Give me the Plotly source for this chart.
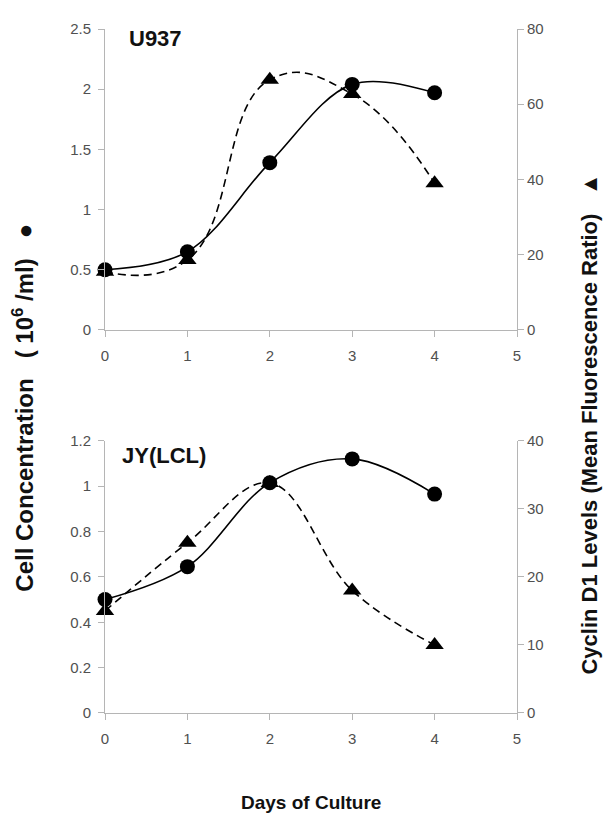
import plotly.graph_objects as go

days = [0, 1, 2, 3, 4]
u937_cells = [0.5, 0.65, 1.39, 2.04, 1.97]
u937_cyclin = [15.5, 18.6, 66.5, 62.7, 39.0]
jy_cells = [0.5, 0.645, 1.015, 1.12, 0.965]
jy_cyclin = [15.0, 25.0, 33.8, 18.0, 10.0]

x_ticks = [0, 1, 2, 3, 4, 5]
top_left_ticks = [0, 0.5, 1, 1.5, 2, 2.5]
top_right_ticks = [0, 20, 40, 60, 80]
bot_left_ticks = [0, 0.2, 0.4, 0.6, 0.8, 1, 1.2]
bot_left_text = ["0", "0.2", "0.4", "0.6", "0.8", "1", "1.2"]
bot_right_ticks = [0, 10, 20, 30, 40]

fig = go.Figure()

def add(x, y, xa, ya, dash, symbol, size, smooth):
    fig.add_trace(go.Scatter(
        x=x, y=y, xaxis=xa, yaxis=ya, mode="lines+markers",
        line=dict(color="black", width=1.6, dash=dash, shape="spline", smoothing=smooth),
        marker=dict(symbol=symbol, size=size, color="black"),
        showlegend=False, cliponaxis=False))

add(days, u937_cells, "x", "y", "solid", "circle", 15, 1.0)
add(days, u937_cyclin, "x", "y2", "8px,5px", "triangle-up", 16, 1.3)
add(days, jy_cells, "x2", "y3", "solid", "circle", 15, 1.0)
add(days, jy_cyclin, "x2", "y4", "8px,5px", "triangle-up", 16, 1.1)

axis_style = dict(showgrid=False, zeroline=False, showline=True, linecolor="#b5b5b5",
                  linewidth=1, ticks="outside", tickcolor="#b5b5b5", ticklen=6,
                  tickfont=dict(family="Liberation Sans, Arial", size=15, color="#505050"))

top_dom = [0.56, 1.0]
bot_dom = [0.0, 0.398]

fig.update_layout(
    width=596, height=823, plot_bgcolor="white", paper_bgcolor="white",
    margin=dict(l=97, r=87, t=12, b=118),
    xaxis=dict(domain=[0, 1], range=[0, 5], tickvals=x_ticks, anchor="y",
               ticklabelstandoff=6, **axis_style),
    yaxis=dict(domain=top_dom, range=[0, 2.5], tickvals=top_left_ticks, anchor="x",
               ticklabelstandoff=4, **axis_style),
    yaxis2=dict(domain=top_dom, range=[0, 80], tickvals=top_right_ticks, overlaying="y",
                side="right", anchor="x", **axis_style),
    xaxis2=dict(domain=[0, 1], range=[0, 5], tickvals=x_ticks, anchor="y3",
                ticklabelstandoff=6, **axis_style),
    yaxis3=dict(domain=bot_dom, range=[0, 1.2], tickvals=bot_left_ticks, ticktext=bot_left_text,
                anchor="x2", ticklabelstandoff=4, **axis_style),
    yaxis4=dict(domain=bot_dom, range=[0, 40], tickvals=bot_right_ticks, overlaying="y3",
                side="right", anchor="x2", **axis_style),
)

fam = "Liberation Sans, Arial"
nb = "\u00a0"
fig.add_annotation(text="<b>U937</b>", xref="x", yref="y", x=0.27, y=2.42, showarrow=False,
                   xanchor="left", yanchor="middle", font=dict(family=fam, size=22, color="#111"))
fig.add_annotation(text="<b>JY(LCL)</b>", xref="x2", yref="y3", x=0.18, y=1.135, showarrow=False,
                   xanchor="left", yanchor="middle", font=dict(family=fam, size=22, color="#111"))
fig.add_annotation(text="<b>Cell Concentration" + nb * 3 + "(" + nb + "10<sup>6</sup>" + nb + "/ml)" + nb * 3 + "●</b>",
                   xref="paper", yref="paper", x=-0.198, y=0.447, textangle=-90, showarrow=False,
                   xanchor="center", yanchor="middle",
                   font=dict(family=fam, size=24, color="#111"))
fig.add_annotation(text="<b>Cyclin D1 Levels (Mean Fluorescence Ratio)" + nb * 3 + "▲</b>",
                   xref="paper", yref="paper", x=1.177, y=0.423, textangle=-90, showarrow=False,
                   xanchor="center", yanchor="middle",
                   font=dict(family=fam, size=22, color="#111"))
fig.add_annotation(text="<b>Days of Culture</b>", xref="paper", yref="paper",
                   x=0.5, y=-0.131, showarrow=False, xanchor="center", yanchor="middle",
                   font=dict(family=fam, size=19, color="#111"))

fig.write_html("out.html")
